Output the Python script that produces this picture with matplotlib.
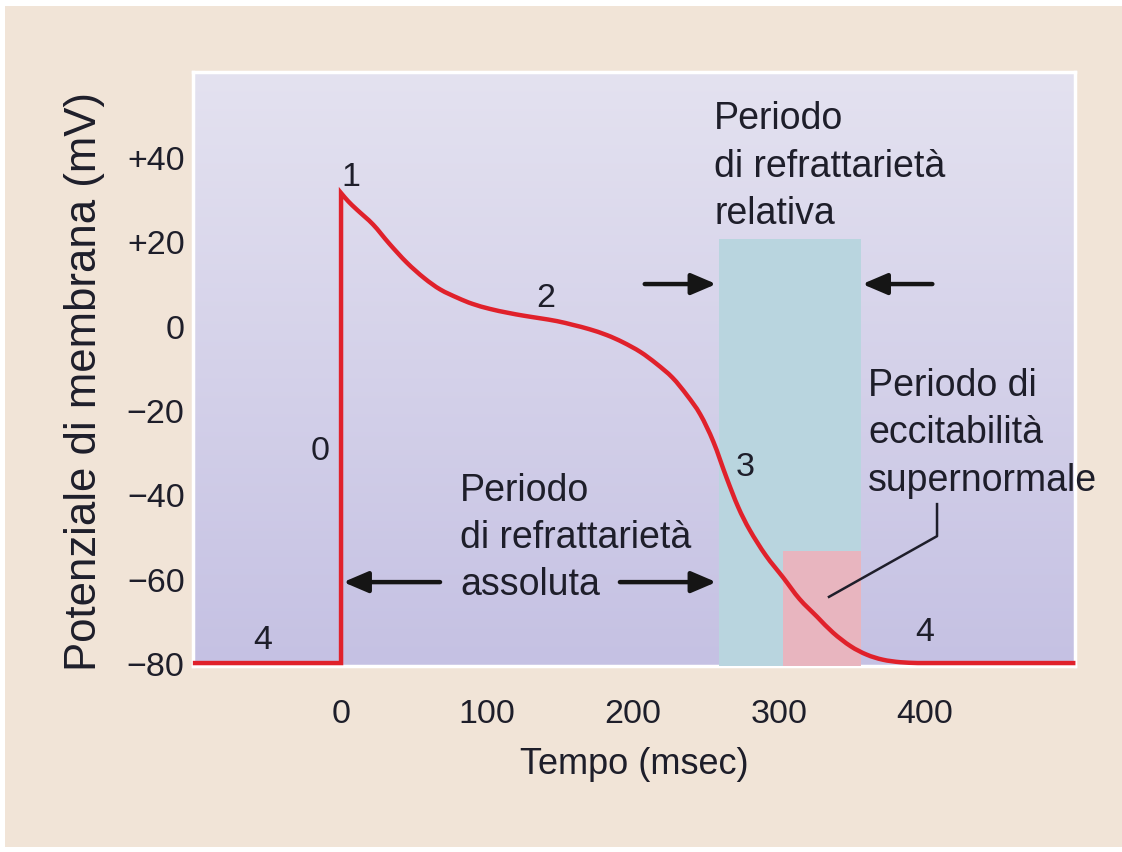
import numpy as np
import matplotlib
matplotlib.use("Agg")
import matplotlib.pyplot as plt
from matplotlib import font_manager
from matplotlib.patches import Rectangle, PathPatch
from matplotlib.path import Path

# ---- data -------------------------------------------------------------
# resting phase before the upstroke
rest_time = [-101.5, 0]
rest_mv = [-80, -80]
# repolarisation from the peak back to rest
repol_time = [0, 5, 11, 22, 33, 45, 57, 68, 80, 90, 102, 114, 125,
              136, 148, 159, 170, 182, 193, 205, 216, 227, 237, 246, 255, 264,
              272, 280, 291, 303, 314, 326, 337, 349, 360, 371, 383, 395]
repol_mv = [31.5, 29.5, 27.5, 24.0, 19.5, 15.0, 11.3, 8.6, 6.6,
            5.2, 4.0, 3.1, 2.4, 1.8, 1.1, 0.2, -0.8, -2.2, -3.9, -6.2,
            -9.0, -12.3, -16.5, -21.0, -27.5, -36.0, -43.0, -48.5, -54.5,
            -59.8, -64.8, -69.0, -72.8, -76.0, -78.0, -79.2, -79.8, -80.0]
# back at rest
tail_time = [395, 503]
tail_mv = [-80.0, -80.0]

x_ticks = [0, 100, 200, 300, 400]
y_ticks = [40, 20, 0, -20, -40, -60, -80]
y_tick_labels = ["+40", "+20", "0", "\u221220", "\u221240", "\u221260", "\u221280"]

relative_period = (259, 356, 20.6)      # start, end, top (mV)
supernormal_period = (303, 356, -53.4)  # start, end, top (mV)

phase_labels = ["0", "1", "2", "3", "4", "4"]
phase_x = [-14.5, 6.5, 140.5, 277, -53.5, 400]
phase_y = [-29.7, 35.3, 6.8, -33.3, -74.3, -72.4]

# ---- fonts ------------------------------------------------------------
names = {f.name for f in font_manager.fontManager.ttflist}
if "Liberation Sans Narrow" in names:
    family = "Liberation Sans Narrow"
    k = 1.19
else:
    family = "Liberation Sans"
    k = 1.0
plt.rcParams["font.family"] = [family, "DejaVu Sans"]

TEXT = "#1e1e2a"
RED = "#e0212b"

fig = plt.figure(figsize=(11.22, 8.53), dpi=100)
fig.patch.set_facecolor("#f1e4d7")

# white edge strips around the sheet
W, H = 1122, 853
for (x0, y0, w, h) in [(0, H - 7, W, 7), (0, 0, 5, H), (0, 0, W, 5)]:
    fig.patches.append(Rectangle((x0 / W, y0 / H), w / W, h / H,
                                 transform=fig.transFigure,
                                 facecolor="white", edgecolor="none"))

ax = fig.add_axes([193 / W, (H - 667) / H, (1075 - 193) / W, (667 - 73) / H])
xlim = (-101.4, 502.7)
ylim = (-80.7, 60.2)
ax.set_xlim(*xlim)
ax.set_ylim(*ylim)

# vertical lavender gradient
top = np.array([228, 226, 240]) / 255
bot = np.array([197, 193, 227]) / 255
t = np.linspace(0, 1, 256)[:, None]
grad = (top[None, :] * (1 - t) + bot[None, :] * t)[:, None, :]
ax.imshow(grad, extent=(*xlim, *ylim), aspect="auto", origin="upper",
          zorder=0, interpolation="bilinear")

for s in ax.spines.values():
    s.set_color("white")
    s.set_linewidth(2.5)

# refractory windows
x0, x1, ytop = relative_period
ax.add_patch(Rectangle((x0, ylim[0]), x1 - x0, ytop - ylim[0],
                       facecolor="#b9d5df", edgecolor="none", zorder=2.6))
x0, x1, ytop = supernormal_period
ax.add_patch(Rectangle((x0, ylim[0]), x1 - x0, ytop - ylim[0],
                       facecolor="#e8b5bf", edgecolor="none", zorder=2.7))


def smooth_path(xs, ys):
    """Cubic Bezier path through every point (Catmull-Rom tangents)."""
    p = np.column_stack([xs, ys]).astype(float)
    n = len(p)
    m = np.zeros_like(p)
    m[1:-1] = (p[2:] - p[:-2]) / 2
    m[0] = p[1] - p[0]
    m[-1] = p[-1] - p[-2]
    verts = [p[0]]
    codes = [Path.MOVETO]
    for i in range(n - 1):
        verts += [p[i] + m[i] / 3, p[i + 1] - m[i + 1] / 3, p[i + 1]]
        codes += [Path.CURVE4] * 3
    return verts, codes


# action potential: rest, upstroke, smooth repolarisation, rest
verts = [(rest_time[0], rest_mv[0]), (rest_time[1], rest_mv[1])]
codes = [Path.MOVETO, Path.LINETO]
rv, rc = smooth_path(repol_time, repol_mv)
verts += rv
codes += [Path.LINETO] + rc[1:]
verts += [(tail_time[1], tail_mv[1])]
codes += [Path.LINETO]
ax.add_patch(PathPatch(Path(verts, codes), facecolor="none", edgecolor=RED,
                       lw=3.2, zorder=5, joinstyle="miter", capstyle="butt",
                       clip_on=False))

# ticks
ax.set_xticks(x_ticks)
ax.set_xticklabels([str(v) for v in x_ticks])
ax.set_yticks(y_ticks)
ax.set_yticklabels(y_tick_labels)
ax.tick_params(length=0, labelsize=24.5 * k, labelcolor=TEXT)
ax.tick_params(axis="x", pad=23)
ax.tick_params(axis="y", pad=6)

ax.set_xlabel("Tempo (msec)", fontsize=26 * k, color=TEXT, labelpad=12)
ax.set_ylabel("Potenziale di membrana (mV)", fontsize=31.5 * k, color=TEXT)
ax.yaxis.set_label_coords(-0.100, 0.481)

# phase numbers
for lab, px, py in zip(phase_labels, phase_x, phase_y):
    ax.text(px, py, lab, fontsize=24.5 * k, color=TEXT, ha="center",
            va="center", zorder=6)

ann_fs = 27 * k
ann_ls = 1.4
ax.text(81.5, -50.1, "Periodo\ndi refrattarietà\nassoluta", fontsize=ann_fs,
        color=TEXT, ha="left", va="center", linespacing=ann_ls, zorder=6)
ax.text(255.5, 38.0, "Periodo\ndi refrattarietà\nrelativa", fontsize=ann_fs,
        color=TEXT, ha="left", va="center", linespacing=ann_ls, zorder=6)
ax.text(361, -25.3, "Periodo di\neccitabilità\nsupernormale", fontsize=ann_fs,
        color=TEXT, ha="left", va="center", linespacing=ann_ls, zorder=6)

arrow_kw = dict(arrowstyle="-|>,head_length=0.75,head_width=0.32",
                mutation_scale=20, lw=3.2, color="#151515",
                shrinkA=0, shrinkB=0)


def arrow(x_from, x_to, y):
    ax.annotate("", xy=(x_to, y), xytext=(x_from, y),
                arrowprops=arrow_kw, zorder=6)


arrow(67.8, 1.5, -60.8)
arrow(191, 257, -60.8)
arrow(208, 257, 9.9)
arrow(405, 357, 9.9)

# callout for the supernormal window
ax.plot([408.2, 408.2, 334.2], [-42.3, -49.9, -64.3], color="#1e1e2a",
        lw=1.8, zorder=6)

fig.savefig("out.png", dpi=100, facecolor=fig.get_facecolor())
